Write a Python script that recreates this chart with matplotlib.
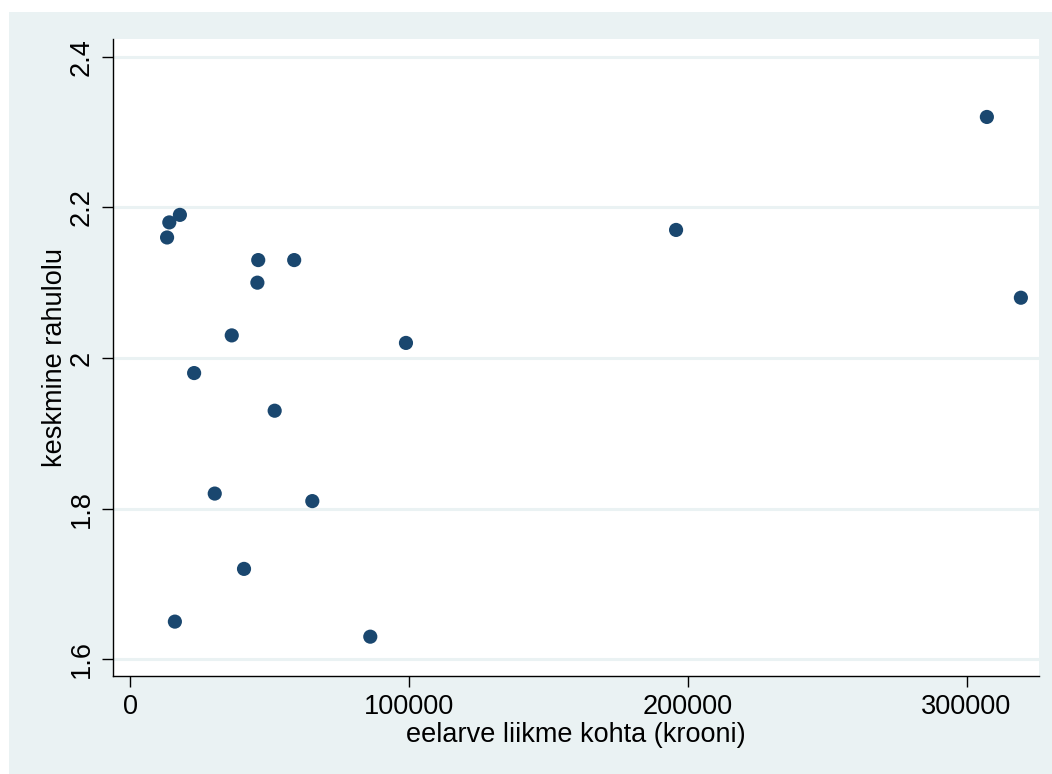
import matplotlib.pyplot as plt
from matplotlib.patches import Rectangle

# andmed (loetud pildilt)
budget_per_member = [
    13200, 14000, 17800, 45900, 45600, 58800, 36400, 22900, 51800,
    30300, 65300, 40800, 16000, 86100, 98900, 195800, 307300, 319500,
]
mean_satisfaction = [
    2.16, 2.18, 2.19, 2.13, 2.10, 2.13, 2.03, 1.98, 1.93,
    1.82, 1.81, 1.72, 1.65, 1.63, 2.02, 2.17, 2.32, 2.08,
]
x_ticks = [0, 100000, 200000, 300000]
y_ticks = [1.6, 1.8, 2.0, 2.2, 2.4]
y_tick_labels = ["1.6", "1.8", "2", "2.2", "2.4"]

BG = "#EAF2F3"
MARKER = "#1A476F"

plt.rcParams["font.family"] = ["Liberation Sans", "DejaVu Sans"]

fig = plt.figure(figsize=(10.52, 7.74), dpi=100, facecolor="white")
# Stata-stiilis hall taust
fig.add_artist(Rectangle((9 / 1052, 0), 1, 1 - 12 / 774,
                         transform=fig.transFigure, facecolor=BG,
                         edgecolor="none", zorder=-10))

ax = fig.add_axes([113 / 1052, 1 - 676 / 774, (1039 - 113) / 1052, (676 - 39) / 774])
ax.set_zorder(1)
ax.set_facecolor("white")

ax.scatter(budget_per_member, mean_satisfaction, s=104, color=MARKER,
           edgecolors="none", zorder=3)

ax.set_xlim(-6200, 326000)
ax.set_ylim(1.5778, 2.4235)

ax.set_xticks(x_ticks)
ax.set_xticklabels([str(t) for t in x_ticks])
ax.set_yticks(y_ticks)
ax.set_yticklabels(y_tick_labels, rotation=90, va="center")

for yv in y_ticks:
    ax.axhline(yv, color=BG, lw=2.2, zorder=1)

for side in ("top", "right"):
    ax.spines[side].set_visible(False)
for side in ("left", "bottom"):
    ax.spines[side].set_linewidth(1.0)
    ax.spines[side].set_color("black")

ax.tick_params(axis="both", direction="out", length=8, width=1,
               labelsize=19.5, pad=5)

ax.set_xlabel("eelarve liikme kohta (krooni)", fontsize=19.5, labelpad=1.5)
ax.set_ylabel("keskmine rahulolu", fontsize=19.5, labelpad=1)

fig.savefig("out.png", dpi=100, facecolor=fig.get_facecolor())
